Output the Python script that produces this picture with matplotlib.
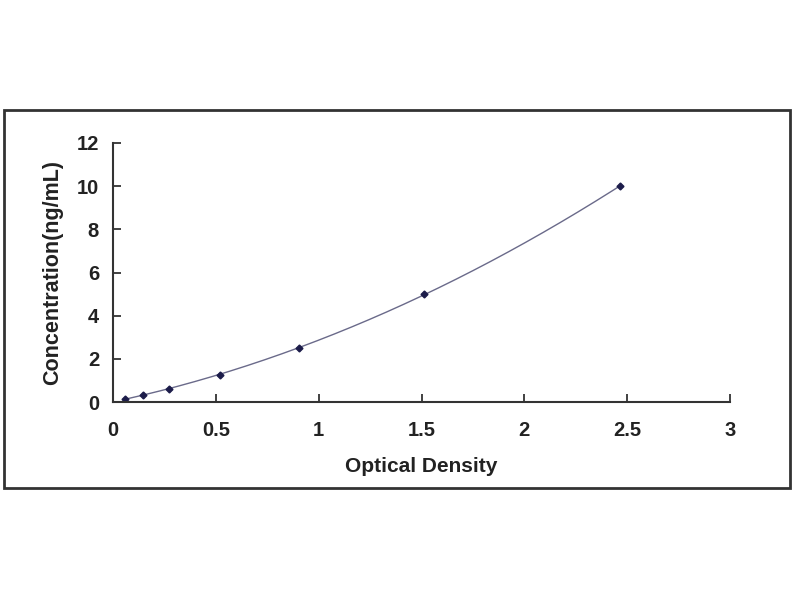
import numpy as np
import matplotlib.pyplot as plt
from matplotlib.patches import Rectangle

# ---------------- DATA ----------------
od = [0.06, 0.145, 0.27, 0.52, 0.905, 1.51, 2.465]
conc = [0.156, 0.312, 0.625, 1.25, 2.5, 5, 10]
x_ticks = [0, 0.5, 1, 1.5, 2, 2.5, 3]
x_tick_labels = ["0", "0.5", "1", "1.5", "2", "2.5", "3"]
y_ticks = [0, 2, 4, 6, 8, 10, 12]

plt.rcParams['font.family'] = ['Liberation Sans', 'DejaVu Sans']

fig = plt.figure(figsize=(8, 6), dpi=100)

# outer frame
fig.patches.append(Rectangle((4 / 800, 1 - 488 / 600), 786 / 800, 378 / 600,
                             transform=fig.transFigure, fill=False,
                             edgecolor="#333333", linewidth=2))

ax = fig.add_axes([113 / 800, 1 - 402 / 600, 617 / 800, 259 / 600])

# ---------------- FIT CURVE ----------------
coef = np.polyfit(od, conc, 2)
xs = np.linspace(min(od), max(od), 200)
ax.plot(xs, np.polyval(coef, xs), color="#6a6a8a", linewidth=1)
ax.plot(od, conc, linestyle="none", marker="D", markersize=3.5,
        color="#1c1c4a")

ax.set_xlim(0, 3)
ax.set_ylim(0, 12)
ax.set_xticks(x_ticks)
ax.set_xticklabels(x_tick_labels)
ax.set_yticks(y_ticks)
for s in ["top", "right"]:
    ax.spines[s].set_visible(False)
for s in ["left", "bottom"]:
    ax.spines[s].set_linewidth(1.5)
    ax.spines[s].set_color("#333333")
ax.tick_params(direction="in", length=6, width=1.3, colors="#333333",
               labelsize=14.5)
ax.tick_params(axis="x", pad=14)
ax.tick_params(axis="y", pad=10)
for lbl in ax.get_xticklabels() + ax.get_yticklabels():
    lbl.set_fontweight("bold")
    lbl.set_color("#222222")

ax.set_xlabel("Optical Density", fontsize=15, fontweight="bold",
              color="#222222", labelpad=12)
ax.set_ylabel("Concentration(ng/mL)", fontsize=15.5, fontweight="bold",
              color="#222222", labelpad=10)

plt.savefig("out.png", dpi=100)
plt.close()
